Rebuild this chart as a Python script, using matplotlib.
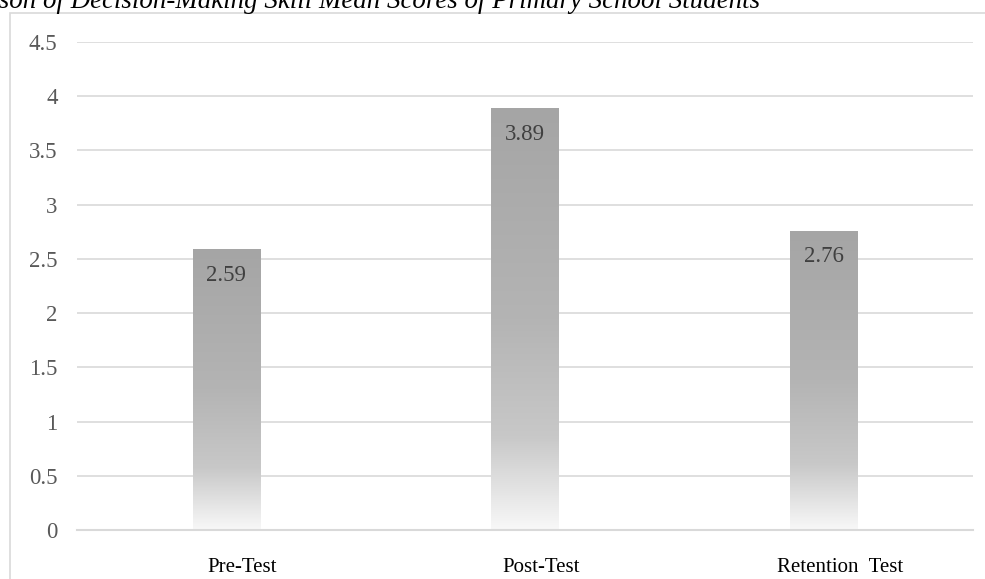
import numpy as np
import matplotlib
matplotlib.use("Agg")
import matplotlib.pyplot as plt
import matplotlib.transforms as mtransforms
from matplotlib.colors import LinearSegmentedColormap
from matplotlib.patches import Rectangle

# data
# ----------
categories = ["Pre-Test", "Post-Test", "Retention  Test"]
mean_scores = [2.59, 3.89, 2.76]
y_ticks = [0, 0.5, 1, 1.5, 2, 2.5, 3, 3.5, 4, 4.5]
y_tick_labels = ["0", "0.5", "1", "1.5", "2", "2.5", "3", "3.5", "4", "4.5"]
title = "Comparison of Decision-Making Skill Mean Scores of Primary School Students"

# plot settings
# ----------
plt.rcParams["font.family"] = "Liberation Serif"

W, H = 985, 579
fig = plt.figure(figsize=(W / 100, H / 100), dpi=100)
ax = fig.add_axes([77 / W, (H - 530) / H, 896 / W, 488 / H])

color_grid = "#d9d9d9"

# chart frame (only left and top edges fall inside the figure)
frame = Rectangle((10 / W, -0.1), 1.1, (H - 13) / H + 0.1, transform=fig.transFigure,
                  fill=False, edgecolor=color_grid, lw=1.2, zorder=0)
fig.patches.append(frame)

# gradient: bottom almost white, top mid gray
grad_cmap = LinearSegmentedColormap.from_list(
    "bar_grad", [(0.0, "#f8f8f8"), (0.22, "#c8c8c8"), (0.5, "#b4b4b4"), (1.0, "#a5a5a5")])

x = np.arange(len(categories))
bars = ax.bar(x, mean_scores, width=0.225, color="none", edgecolor="none", zorder=2)

grad = np.linspace(0, 1, 256).reshape(-1, 1)
for bar, val in zip(bars, mean_scores):
    x0 = bar.get_x()
    x1 = x0 + bar.get_width()
    im = ax.imshow(grad, cmap=grad_cmap, origin="lower", aspect="auto",
                   extent=[x0, x1, 0, val], zorder=2, interpolation="bicubic")
    im.set_clip_path(bar)
    ax.text(bar.get_x() + bar.get_width() / 2, val - 0.24, f"{val:.2f}",
            ha="center", va="center", fontsize=16.5, color="#404040", zorder=3)

ax.set_xlim(-0.5, len(categories) - 0.5)
ax.set_ylim(0, 4.5)
ax.set_yticks(y_ticks)
ax.set_yticklabels(y_tick_labels)
ax.set_xticks(x)
ax.set_xticklabels(categories)

ax.yaxis.grid(True, color=color_grid, lw=1.2, zorder=0)
ax.set_axisbelow(True)
for side in ["top", "right", "left"]:
    ax.spines[side].set_visible(False)
ax.spines["bottom"].set_color(color_grid)
ax.spines["bottom"].set_linewidth(1.5)

ax.tick_params(axis="y", length=0, pad=14, labelsize=16.5, labelcolor="#595959")
ax.tick_params(axis="x", length=0, pad=20, labelsize=15, labelcolor="#000000")

# category labels sit a little right of the bar centres
shift = mtransforms.ScaledTranslation(16 / 100, 0, fig.dpi_scale_trans)
for lbl in ax.get_xticklabels():
    lbl.set_transform(lbl.get_transform() + shift)

# title, partly running off the left edge
fig.text(760 / W, 1 - 8.5 / H, title, ha="right", va="baseline",
         fontsize=19.4, style="italic", color="#000000")

fig.savefig("out.png", dpi=100)
